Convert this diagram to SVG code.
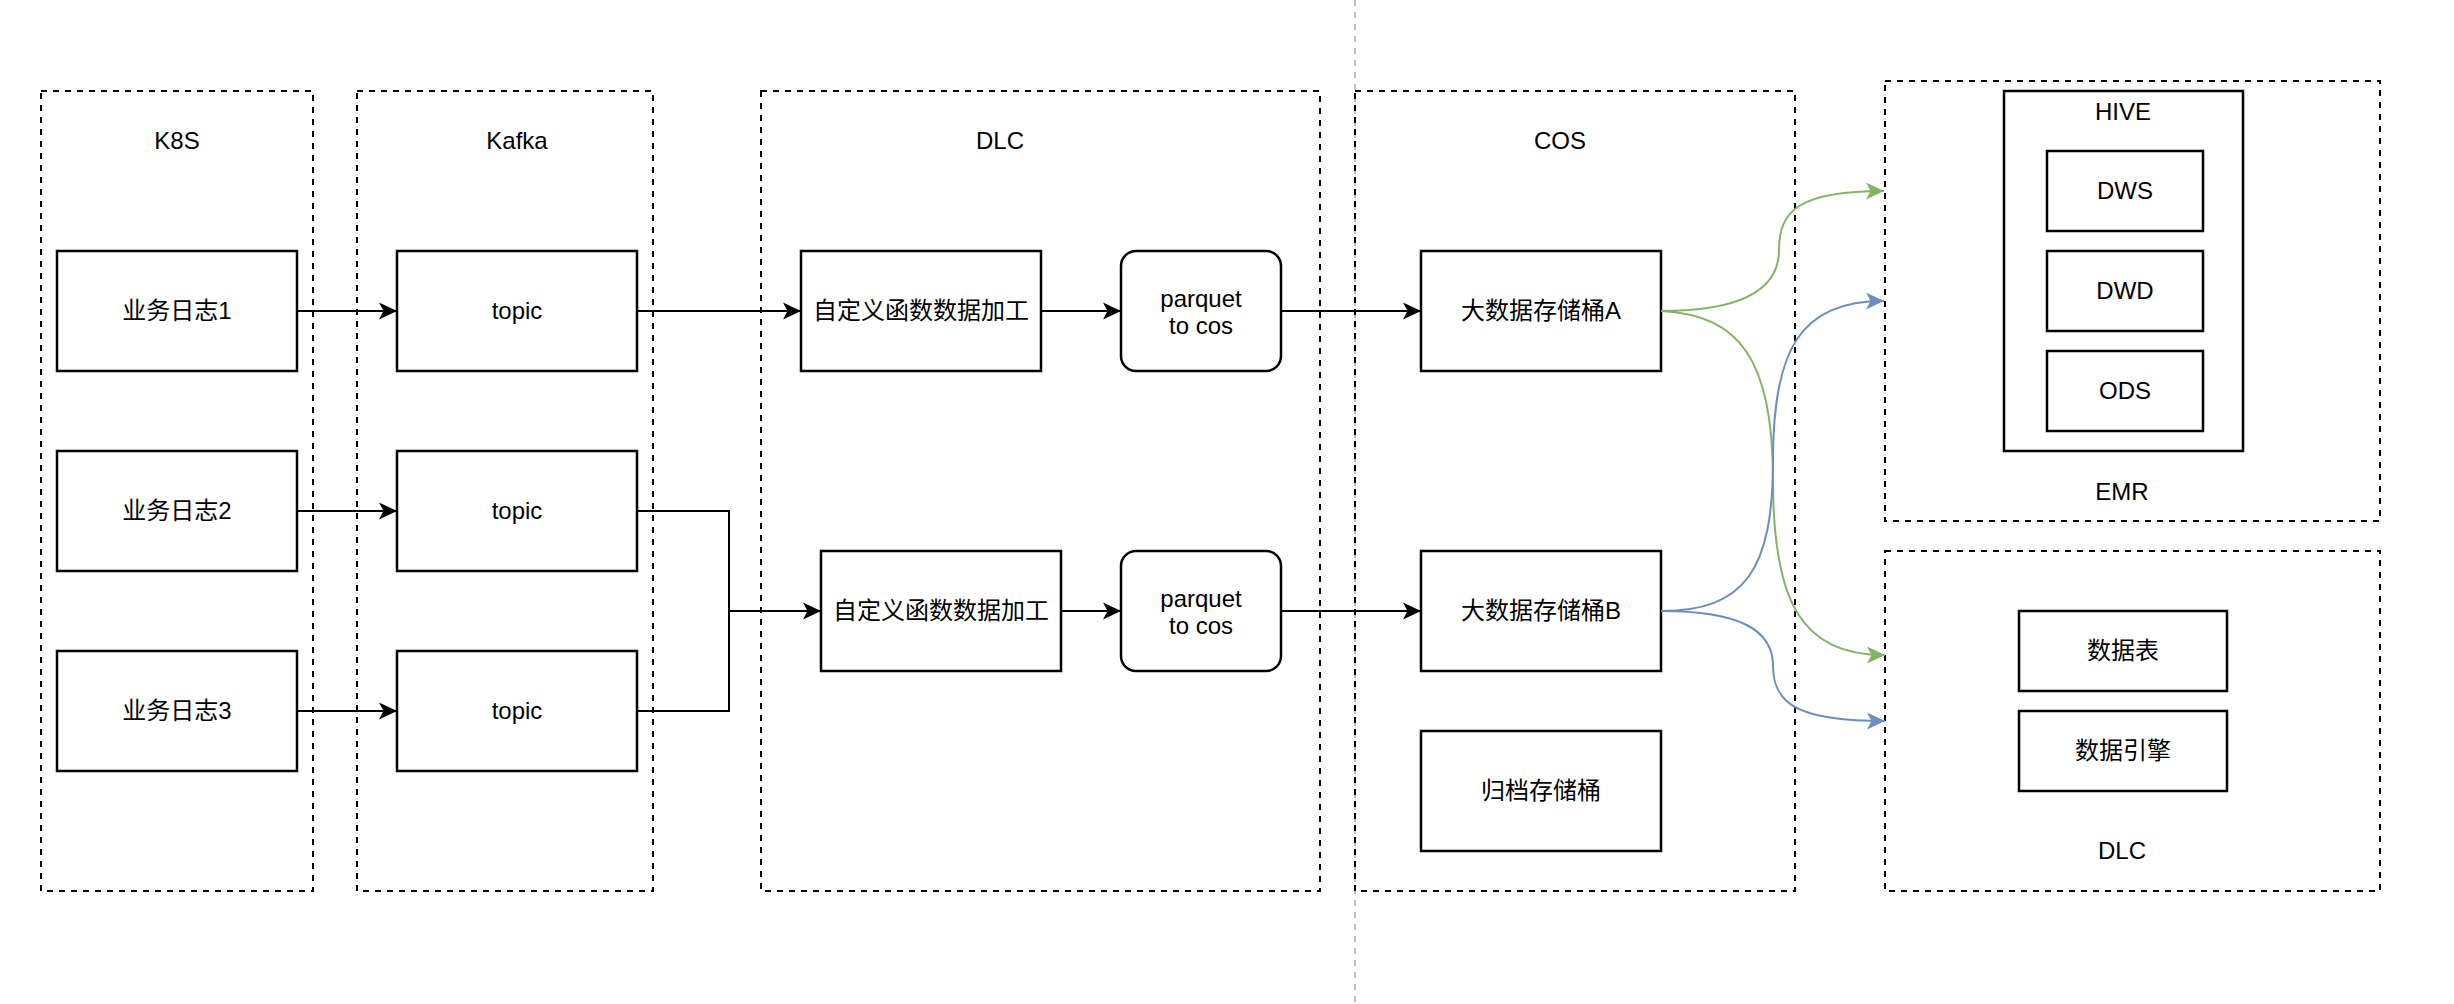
<svg xmlns="http://www.w3.org/2000/svg" width="2454" height="1004" viewBox="0 0 2454 1004">
<style>
text{font-family:"Liberation Sans","Noto Sans CJK SC",sans-serif;font-size:24px;fill:#000;text-anchor:middle}
.grp{fill:none;stroke:#000;stroke-width:2;stroke-dasharray:6 6}
.box{fill:#fff;stroke:#000;stroke-width:2.5}
.edge{fill:none;stroke:#000;stroke-width:2}
.g{fill:none;stroke:#82b366;stroke-width:2}
.b{fill:none;stroke:#6c8ebf;stroke-width:2}
</style>
<defs>
<marker id="ak" markerUnits="userSpaceOnUse" markerWidth="20" markerHeight="20" viewBox="0 0 20 20" refX="18" refY="10" orient="auto"><path d="M0,1.5 L18,10 L0,18.5 L4.5,10 Z" fill="#000"/></marker>
<marker id="ag" markerUnits="userSpaceOnUse" markerWidth="20" markerHeight="20" viewBox="0 0 20 20" refX="18" refY="10" orient="auto"><path d="M0,1.5 L18,10 L0,18.5 L4.5,10 Z" fill="#82b366"/></marker>
<marker id="ab" markerUnits="userSpaceOnUse" markerWidth="20" markerHeight="20" viewBox="0 0 20 20" refX="18" refY="10" orient="auto"><path d="M0,1.5 L18,10 L0,18.5 L4.5,10 Z" fill="#6c8ebf"/></marker>
</defs>
<rect width="2454" height="1004" fill="#fff"/>
<line x1="1355" y1="0" x2="1355" y2="1004" stroke="#c0c0c0" stroke-width="2" stroke-dasharray="6 6"/>

<g id="k8s"><rect class="grp" x="41" y="91" width="272" height="800"/><text x="177" y="149">K8S</text></g>
<g id="kafka"><rect class="grp" x="357" y="91" width="296" height="800"/><text x="517" y="149">Kafka</text></g>
<g id="dlc-proc"><rect class="grp" x="761" y="91" width="559" height="800"/><text x="1000" y="149">DLC</text></g>
<g id="cos"><rect class="grp" x="1355" y="91" width="440" height="800"/><text x="1560" y="149">COS</text></g>
<g id="emr"><rect class="grp" x="1885" y="81" width="495" height="440"/><text x="2122" y="500">EMR</text></g>
<g id="dlc-query"><rect class="grp" x="1885" y="551" width="495" height="340"/><text x="2122" y="859">DLC</text></g>

<g id="log1"><rect class="box" x="57" y="251" width="240" height="120"/><text x="177" y="319">业务日志1</text></g>
<g id="log2"><rect class="box" x="57" y="451" width="240" height="120"/><text x="177" y="519">业务日志2</text></g>
<g id="log3"><rect class="box" x="57" y="651" width="240" height="120"/><text x="177" y="719">业务日志3</text></g>
<g id="topic1"><rect class="box" x="397" y="251" width="240" height="120"/><text x="517" y="319">topic</text></g>
<g id="topic2"><rect class="box" x="397" y="451" width="240" height="120"/><text x="517" y="519">topic</text></g>
<g id="topic3"><rect class="box" x="397" y="651" width="240" height="120"/><text x="517" y="719">topic</text></g>
<g id="udf1"><rect class="box" x="801" y="251" width="240" height="120"/><text x="921" y="319">自定义函数数据加工</text></g>
<g id="udf2"><rect class="box" x="821" y="551" width="240" height="120"/><text x="941" y="619">自定义函数数据加工</text></g>
<g id="pq1"><rect class="box" x="1121" y="251" width="160" height="120" rx="15"/><text x="1201" y="306.5">parquet</text><text x="1201" y="334">to cos</text></g>
<g id="pq2"><rect class="box" x="1121" y="551" width="160" height="120" rx="15"/><text x="1201" y="606.5">parquet</text><text x="1201" y="634">to cos</text></g>
<g id="bucketA"><rect class="box" x="1421" y="251" width="240" height="120"/><text x="1541" y="319">大数据存储桶A</text></g>
<g id="bucketB"><rect class="box" x="1421" y="551" width="240" height="120"/><text x="1541" y="619">大数据存储桶B</text></g>
<g id="archive"><rect class="box" x="1421" y="731" width="240" height="120"/><text x="1541" y="799">归档存储桶</text></g>
<g id="hive"><rect class="box" x="2004" y="91" width="239" height="360"/><text x="2123" y="120">HIVE</text></g>
<g id="dws"><rect class="box" x="2047" y="151" width="156" height="80"/><text x="2125" y="199">DWS</text></g>
<g id="dwd"><rect class="box" x="2047" y="251" width="156" height="80"/><text x="2125" y="299">DWD</text></g>
<g id="ods"><rect class="box" x="2047" y="351" width="156" height="80"/><text x="2125" y="399">ODS</text></g>
<g id="table"><rect class="box" x="2019" y="611" width="208" height="80"/><text x="2123" y="659">数据表</text></g>
<g id="engine"><rect class="box" x="2019" y="711" width="208" height="80"/><text x="2123" y="759">数据引擎</text></g>

<g id="connectors">
<path class="edge" d="M297,311 H397" marker-end="url(#ak)"/>
<path class="edge" d="M297,511 H397" marker-end="url(#ak)"/>
<path class="edge" d="M297,711 H397" marker-end="url(#ak)"/>
<path class="edge" d="M637,311 H801" marker-end="url(#ak)"/>
<path class="edge" d="M637,511 H729 V611 H821" marker-end="url(#ak)"/>
<path class="edge" d="M637,711 H729 V611"/>
<path class="edge" d="M1041,311 H1121" marker-end="url(#ak)"/>
<path class="edge" d="M1061,611 H1121" marker-end="url(#ak)"/>
<path class="edge" d="M1281,311 H1421" marker-end="url(#ak)"/>
<path class="edge" d="M1281,611 H1421" marker-end="url(#ak)"/>
<path class="g" d="M1661,311 C1740,311 1779,290 1779,250 C1779,210 1800,191 1884,191" marker-end="url(#ag)"/>
<path class="g" d="M1661,311 C1740,315 1773,360 1773,480 C1773,600 1800,655 1885,655" marker-end="url(#ag)"/>
<path class="b" d="M1661,611 C1745,611 1773,570 1773,460 C1773,350 1800,301 1884,301" marker-end="url(#ab)"/>
<path class="b" d="M1661,611 C1740,611 1773,630 1773,666 C1773,705 1800,721 1885,721" marker-end="url(#ab)"/>
</g>
</svg>
